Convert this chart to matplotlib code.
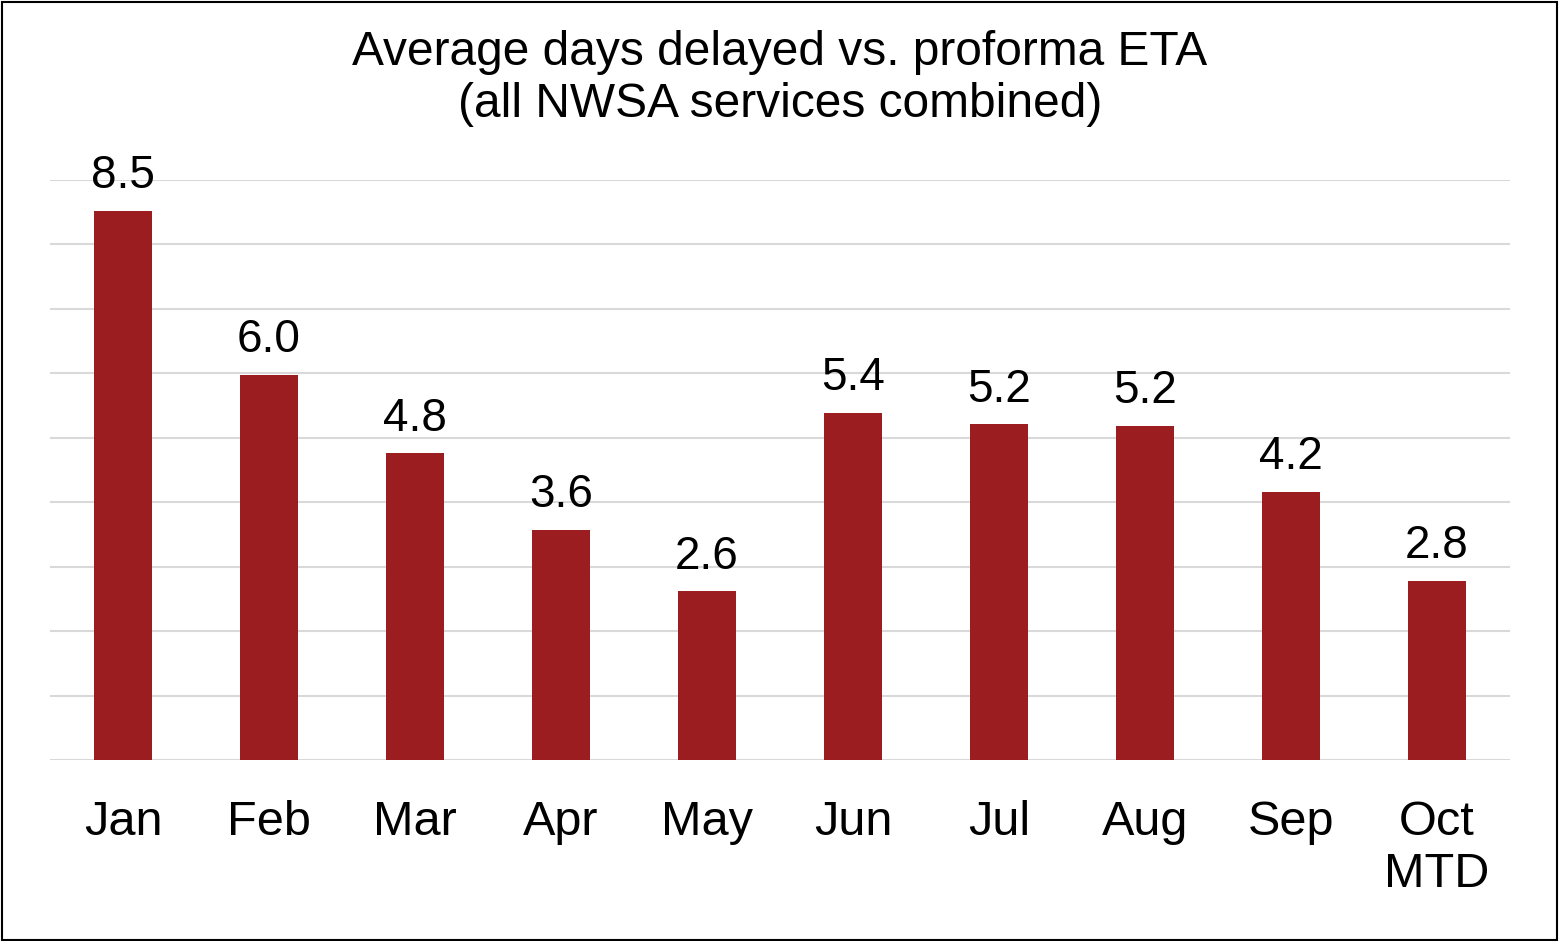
import matplotlib
matplotlib.use('Agg')
import matplotlib.pyplot as plt
from matplotlib.patches import Rectangle

plt.rcParams['font.family'] = ['Liberation Sans', 'DejaVu Sans']

months = ['Jan', 'Feb', 'Mar', 'Apr', 'May', 'Jun', 'Jul', 'Aug', 'Sep', 'Oct\nMTD']
days_delayed = [8.52, 5.98, 4.76, 3.57, 2.62, 5.39, 5.21, 5.19, 4.16, 2.78]

BAR_COLOR = '#9B1D20'
GRID_COLOR = '#D9D9D9'

fig = plt.figure(figsize=(15.6, 9.41), dpi=100)
ax = fig.add_axes([50 / 1560, 181 / 941, 1460 / 1560, 580 / 941])

x = range(len(months))
bars = ax.bar(x, days_delayed, width=0.40, color=BAR_COLOR, zorder=3)

for xi, v in zip(x, days_delayed):
    ax.annotate(f'{v:.1f}', xy=(xi, v), xytext=(0, 9), textcoords='offset points',
                ha='center', va='bottom', fontsize=33, color='black')

ax.set_xlim(-0.5, len(months) - 0.5)
ax.set_ylim(0, 9)
ax.set_yticks(range(0, 10))
ax.yaxis.grid(True, color=GRID_COLOR, linewidth=1.5, zorder=0)
ax.set_axisbelow(True)
ax.tick_params(axis='y', left=False, labelleft=False)
ax.tick_params(axis='x', length=0, pad=29, labelsize=35)
ax.set_xticks(list(x))
ax.set_xticklabels(months, linespacing=1.2)
for s in ax.spines.values():
    s.set_visible(False)

fig.text(0.5, 1 - 30 / 941, 'Average days delayed vs. proforma ETA\n(all NWSA services combined)',
         ha='center', va='top', fontsize=34.5, linespacing=1.2)

# thin black frame round the whole picture
fig.patches.append(Rectangle((0.001, 0.001), 0.997, 0.997, transform=fig.transFigure,
                             fill=False, edgecolor='black', linewidth=1.5))

fig.savefig('out.png', dpi=100)
